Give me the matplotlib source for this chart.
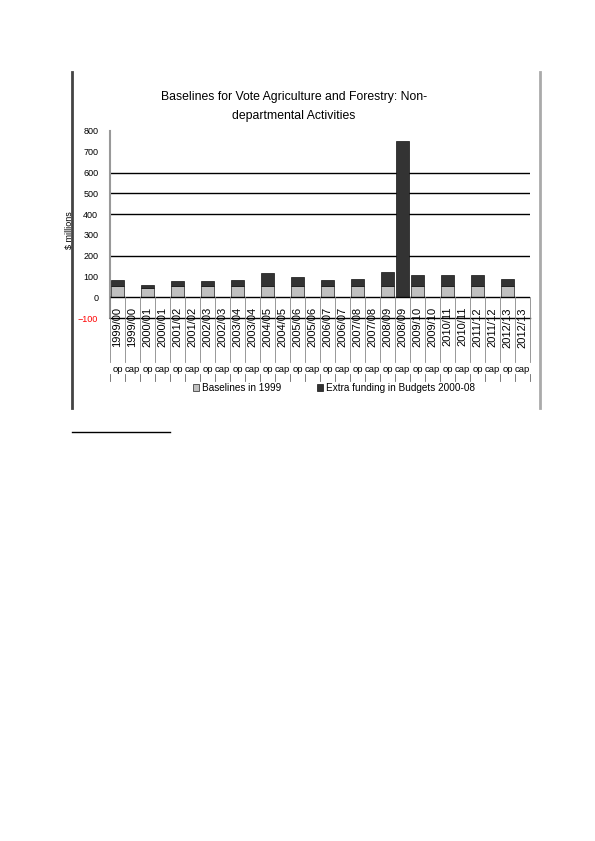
import matplotlib.pyplot as plt
import matplotlib.transforms as mtransforms
from matplotlib.lines import Line2D
from matplotlib.patches import Patch
import numpy as np

plt.rcParams['font.family'] = ['Liberation Sans', 'DejaVu Sans']

years = ['1999/00', '2000/01', '2001/02', '2002/03', '2003/04', '2004/05', '2005/06',
         '2006/07', '2007/08', '2008/09', '2009/10', '2010/11', '2011/12', '2012/13']
kinds = ['op', 'cap']
baseline_op = [53, 45, 55, 55, 55, 55, 55, 55, 55, 55, 55, 55, 55, 55]
extra_op = [32, 13, 25, 25, 30, 62, 43, 30, 35, 67, 54, 50, 50, 33]
baseline_cap = [0] * 14
extra_cap = [0, 0, 0, 0, 0, 0, 0, 0, 0, 750, 0, 0, 0, 0]

W, H = 595, 841
def fy(py):
    return 1 - py / H

fig = plt.figure(figsize=(W / 100, H / 100), dpi=100)
ax = fig.add_axes([110 / W, fy(318), 420 / W, (318 - 131) / H])

# interleave op / cap
base = []
extra = []
labels = []
for i in range(len(years)):
    base += [baseline_op[i], baseline_cap[i]]
    extra += [extra_op[i], extra_cap[i]]
    labels += [(years[i], kinds[0]), (years[i], kinds[1])]
n = len(base)
x = np.arange(n)

ax.set_xlim(-0.5, n - 0.5)
ax.set_ylim(-100, 800)

for g in [200, 400, 500, 600]:
    ax.axhline(g, color='black', lw=1, zorder=1)

ax.bar(x, base, width=0.9, color='#c0c0c0', edgecolor='#222222', lw=0.5, zorder=3)
ax.bar(x, extra, width=0.9, bottom=base, color='#333333', edgecolor='#111111', lw=0.5, zorder=3)

# white label block below zero
ax.axhspan(-100, 0, color='white', zorder=2)
ax.axhline(-100, color='black', lw=1, zorder=6, clip_on=False)
ax.axhline(0, color='black', lw=1, zorder=4)

for s in ['top', 'right', 'bottom']:
    ax.spines[s].set_visible(False)
ax.spines['left'].set_color('#999999')
ax.spines['left'].set_linewidth(1.5)
ax.set_xticks([])
ax.set_yticks(np.arange(-100, 801, 100))
ax.tick_params(axis='y', length=0, labelsize=6.5, pad=8.5)
for t in ax.get_yticklabels():
    if t.get_text().replace('\u2212', '-') == '-100':
        t.set_color('red')
ax.set_ylabel('$ millions', fontsize=6.5)
ax.yaxis.set_label_coords(-0.085, 0.47)

tr = mtransforms.blended_transform_factory(ax.transData, fig.transFigure)
for i, (yr, k) in enumerate(labels):
    ax.text(i, fy(307), yr, rotation=90, ha='center', va='top', fontsize=8,
            transform=tr, clip_on=False, zorder=5)
    ax.text(i, fy(369), k, ha='center', va='center', fontsize=6.8,
            transform=tr, clip_on=False)
for b in np.arange(-0.5, n, 1):
    fig.add_artist(Line2D([b, b], [fy(297), fy(362)], transform=tr, color='#888888', lw=0.6))
    fig.add_artist(Line2D([b, b], [fy(374), fy(381)], transform=tr, color='#666666', lw=0.6))

fig.text(294 / W, fy(97), 'Baselines for Vote Agriculture and Forestry: Non-',
         ha='center', va='center', fontsize=8.8)
fig.text(294 / W, fy(116), 'departmental Activities',
         ha='center', va='center', fontsize=8.8)

handles = [Patch(facecolor='#c0c0c0', edgecolor='#222222', lw=0.5),
           Patch(facecolor='#333333', edgecolor='#111111', lw=0.5)]
fig.legend(handles, ['Baselines in 1999', 'Extra funding in Budgets 2000-08'],
           loc='center', bbox_to_anchor=(334 / W, fy(388)), ncol=2, frameon=False,
           fontsize=7.2, handlelength=0.6, handleheight=0.6, handletextpad=0.3,
           columnspacing=3.5)

# chart frame and footnote rule
fig.add_artist(Line2D([72 / W, 72 / W], [fy(72), fy(408)], color='#444444', lw=2))
fig.add_artist(Line2D([540 / W, 540 / W], [fy(72), fy(408)], color='#aaaaaa', lw=2))
fig.add_artist(Line2D([72 / W, 170 / W], [fy(432), fy(432)], color='black', lw=1))

fig.savefig('out.png', dpi=100)
